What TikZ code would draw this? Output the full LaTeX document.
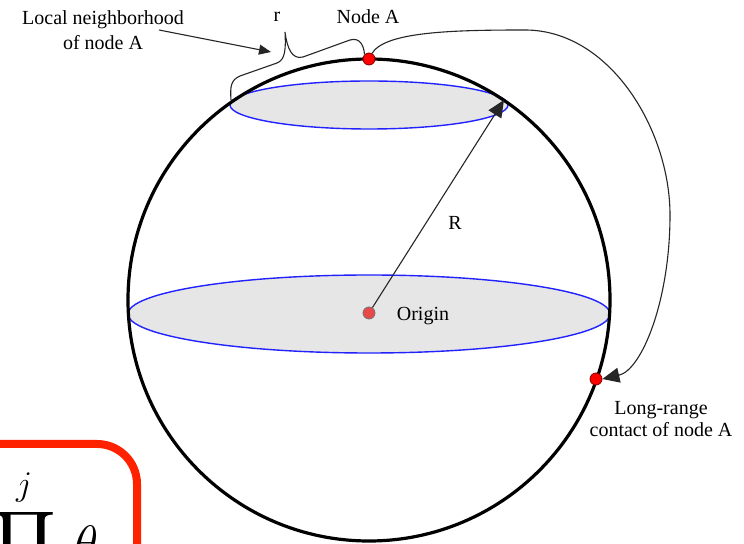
\documentclass[tikz,border=0pt]{standalone}
\usepackage{amsmath}
\usepackage{fontspec}
\setmainfont{Liberation Serif}
\usetikzlibrary{arrows.meta}
\definecolor{ellfill}{HTML}{E6E6E6}
\definecolor{ellblue}{HTML}{2222FF}
\definecolor{boxred}{HTML}{FF2200}
\definecolor{dotred}{HTML}{FF0000}
\definecolor{origred}{HTML}{E84848}
\begin{document}
\begin{tikzpicture}[x=0.5pt,y=-0.5pt,
  lbl/.style={font=\fontsize{10}{12.5}\selectfont, align=center, inner sep=0pt},
  thinline/.style={line width=0.55pt, draw=black!85},
  sphere/.style={line width=1.6pt},
  slice/.style={draw=ellblue, fill=ellfill, line width=0.7pt},
  dotnode/.style={circle, fill=dotred, draw=black!50!red, line width=0.4pt, minimum size=6pt, inner sep=0pt},
  tipa/.style={-{Triangle[length=8.5pt,width=7.5pt]}},
  tipb/.style={-{Triangle[length=6pt,width=5pt]}}]
\useasboundingbox (0,0) rectangle (744,544);
\clip (0,0) rectangle (744,544);
\fill[white] (0,0) rectangle (744,544);

% slices
\draw[slice] (369,105) ellipse[x radius=139, y radius=24];
\draw[slice] (369,314) ellipse[x radius=241, y radius=39];
% sphere
\draw[sphere] (369,300) circle[radius=241];

% nodes
\node[dotnode] (nodeA) at (369,59) {};
\node[dotnode] (longc) at (596,379) {};
\node[dotnode, fill=origred, draw=black!55] (origin) at (369,313) {};
\coordinate (rtip) at (504,100);
\coordinate (topW) at (231,100);
\coordinate (locstart) at (159,30);
\coordinate (loctip) at (271,52);

% radius arrow
\draw[thinline, tipa] (origin) -- (rtip);

% long-range connector
\draw[thinline, tipa] (nodeA.62) .. controls (385,32) and (450,30) .. (525,30)
  .. controls (610,30) and (670,130) .. (670,215)
  .. controls (670,300) and (642,370) .. (longc.east);

% brace
\draw[thinline] (topW) .. controls (230,86) and (231,80) .. (240,76)
  -- (277,63) .. controls (285,60) and (286,50) .. (285,32)
  .. controls (287,48) and (292,60) .. (303,57)
  -- (350,40) .. controls (360,37) and (364,46) .. (nodeA.135);

% local neighborhood arrow
\draw[thinline, tipb] (locstart) -- (loctip);

% labels
\node[lbl] (loclbl) at (103,30) {Local neighborhood\\of node A};
\node[lbl] (rlbl) at (277,17) {r};
\node[lbl] (nodeAlbl) at (368,17) {Node A};
\node[lbl] (Rlbl) at (455,223) {R};
\node[lbl] (origlbl) at (423,316) {Origin};
\node[lbl, font=\fontsize{10}{11}\selectfont] (longlbl) at (661,419) {Long-range\\contact of node A};

% red box with partial formula
\draw[boxred, line width=4pt, rounded corners=20pt] (-60,444) rectangle (137,640);
\node[anchor=base, inner sep=0pt] (prodnode) at (24,560) {\fontsize{24}{28}\selectfont$\displaystyle\prod^{j}$};
\node[anchor=base west, inner sep=0pt] (thetanode) at (74,560) {\fontsize{24}{28}\selectfont$\theta$};
\end{tikzpicture}
\end{document}
